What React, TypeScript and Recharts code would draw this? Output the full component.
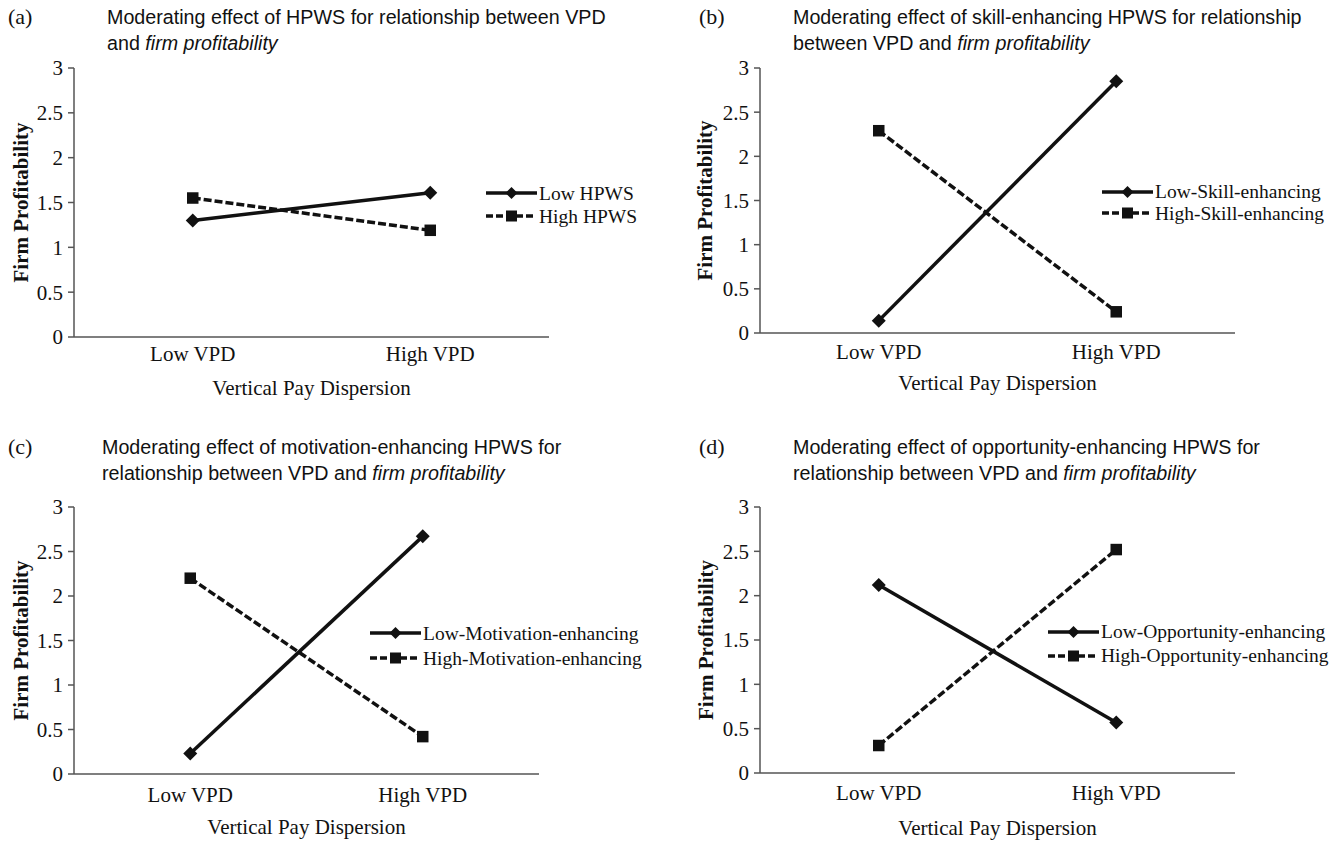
import React from 'react';
import { LineChart, Line, XAxis, YAxis, Legend } from 'recharts';

// ---------- data ----------
const categories = ['Low VPD', 'High VPD'];
const yTicks = [0, 0.5, 1, 1.5, 2, 2.5, 3];

const lowHPWS = [1.3, 1.61];
const highHPWS = [1.55, 1.19];
const lowSkill = [0.14, 2.85];
const highSkill = [2.29, 0.24];
const lowMotivation = [0.23, 2.67];
const highMotivation = [2.2, 0.42];
const lowOpportunity = [2.12, 0.57];
const highOpportunity = [0.31, 2.52];

const namesA = ['Low HPWS', 'High HPWS'];
const namesB = ['Low-Skill-enhancing', 'High-Skill-enhancing'];
const namesC = ['Low-Motivation-enhancing', 'High-Motivation-enhancing'];
const namesD = ['Low-Opportunity-enhancing', 'High-Opportunity-enhancing'];

const panelLetters = ['(a)', '(b)', '(c)', '(d)'];
const titleLine1 = [
  'Moderating effect of HPWS for relationship between VPD',
  'Moderating effect of skill-enhancing HPWS for relationship',
  'Moderating effect of motivation-enhancing HPWS for',
  'Moderating effect of opportunity-enhancing HPWS for',
];
const titleLine2Plain = ['and ', 'between VPD and ', 'relationship between VPD and ', 'relationship between VPD and '];
const titleLine2Italic = 'firm profitability';
const xAxisTitle = 'Vertical Pay Dispersion';
const yAxisTitle = 'Firm Profitability';

const buildRows = (low: number[], high: number[]) =>
  categories.map((name, i) => ({ name, low: low[i], high: high[i] }));

// ---------- styling ----------
const SERIF = "'Liberation Serif', 'Times New Roman', Times, serif";
const SANS = "'Liberation Sans', Arial, Helvetica, sans-serif";
const INK = '#111';
const AXIS = '#555';
const LINE_W = 3.5;

const renderDiamond = (props: any) => {
  const { cx, cy, index } = props;
  if (cx == null || cy == null) return <g key={`d-${index}`} />;
  const r = 7;
  return (
    <polygon
      key={`d-${index}`}
      points={`${cx},${cy - r} ${cx + r},${cy} ${cx},${cy + r} ${cx - r},${cy}`}
      fill={INK}
    />
  );
};

const renderSquare = (props: any) => {
  const { cx, cy, index } = props;
  if (cx == null || cy == null) return <g key={`s-${index}`} />;
  const s = 11.5;
  return <rect key={`s-${index}`} x={cx - s / 2} y={cy - s / 2} width={s} height={s} fill={INK} />;
};

type PanelCfg = {
  left: number;
  top: number;
  w: number;
  h: number;
  plotLeft: number;
  plotRight: number;
  plotTop: number;
  plotBottom: number;
  xAxisHeight: number;
  tickMargin: number;
  yLabelOffset: number;
  legendLeft: number;
  legendTop: number;
  legendRow: number;
  letterLeft: number;
  titleLeft: number;
};

const makeLegend = (names: string[], rowH: number) => () => (
  <div style={{ fontFamily: SERIF, fontSize: 19.5, color: INK }}>
    {names.map((n, i) => (
      <div key={n} style={{ display: 'flex', alignItems: 'center', height: rowH, whiteSpace: 'nowrap' }}>
        <svg width={52} height={16} style={{ display: 'block' }}>
          <line
            x1={0}
            x2={i === 1 ? 48 : 51}
            y1={8}
            y2={8}
            stroke={INK}
            strokeWidth={LINE_W}
            strokeDasharray={i === 1 ? '7 3' : undefined}
          />
          {i === 0 ? (
            <polygon points="25.5,2 31.5,8 25.5,14 19.5,8" fill={INK} />
          ) : (
            <rect x={20} y={2.5} width={11} height={11} fill={INK} />
          )}
        </svg>
        <span style={{ marginLeft: 1, lineHeight: `${rowH}px` }}>{n}</span>
      </div>
    ))}
  </div>
);

const Panel = ({ cfg, low, high, names, idx }: { cfg: PanelCfg; low: number[]; high: number[]; names: string[]; idx: number }) => {
  const data = buildRows(low, high);
  const margin = {
    top: cfg.plotTop,
    left: 0,
    right: cfg.w - cfg.plotRight,
    bottom: cfg.h - cfg.plotBottom - cfg.xAxisHeight,
  };
  return (
    <>
      <div
        style={{
          position: 'absolute',
          left: cfg.letterLeft,
          top: cfg.top + 4,
          fontFamily: SERIF,
          fontSize: 22,
          lineHeight: '26px',
          color: INK,
        }}
      >
        {panelLetters[idx]}
      </div>
      <div
        style={{
          position: 'absolute',
          left: cfg.titleLeft,
          top: cfg.top + 4,
          fontFamily: SANS,
          fontSize: 19.7,
          lineHeight: '26px',
          color: INK,
          whiteSpace: 'nowrap',
        }}
      >
        {titleLine1[idx]}
        <br />
        {titleLine2Plain[idx]}
        <i>{titleLine2Italic}</i>
      </div>
      <div style={{ position: 'absolute', left: cfg.left, top: cfg.top }}>
        <LineChart width={cfg.w} height={cfg.h} data={data} margin={margin}>
          <XAxis
            dataKey="name"
            type="category"
            scale="band"
            axisLine={{ stroke: AXIS, strokeWidth: 1.5 }}
            tickLine={false}
            tickSize={6}
            tickMargin={cfg.tickMargin}
            height={cfg.xAxisHeight}
            tick={{ fill: INK, fontFamily: SERIF, fontSize: 21 }}
            interval={0}
            label={{
              value: xAxisTitle,
              position: 'insideBottom',
              offset: 0,
              fill: INK,
              fontFamily: SERIF,
              fontSize: 21,
            }}
          />
          <YAxis
            type="number"
            domain={[0, 3]}
            ticks={yTicks}
            interval={0}
            width={cfg.plotLeft}
            axisLine={{ stroke: AXIS, strokeWidth: 1.5 }}
            tickLine={{ stroke: AXIS, strokeWidth: 1.5 }}
            tickSize={6}
            tickMargin={5}
            tick={{ fill: INK, fontFamily: SERIF, fontSize: 21 }}
            label={{
              value: yAxisTitle,
              angle: -90,
              position: 'insideLeft',
              offset: cfg.yLabelOffset,
              textAnchor: 'middle',
              fill: INK,
              fontFamily: SERIF,
              fontSize: 21,
              fontWeight: 'bold',
            }}
          />
          <Legend
            layout="vertical"
            align="center"
            verticalAlign="middle"
            content={makeLegend(names, cfg.legendRow)}
            wrapperStyle={{ left: cfg.legendLeft, top: cfg.legendTop, width: 'auto', height: 'auto' }}
          />
          <Line
            name={names[0]}
            dataKey="low"
            type="linear"
            stroke={INK}
            strokeWidth={LINE_W}
            dot={renderDiamond}
            activeDot={false}
            isAnimationActive={false}
          />
          <Line
            name={names[1]}
            dataKey="high"
            type="linear"
            stroke={INK}
            strokeWidth={LINE_W}
            strokeDasharray="8 3"
            dot={renderSquare}
            activeDot={false}
            isAnimationActive={false}
          />
        </LineChart>
      </div>
    </>
  );
};

const cfgA: PanelCfg = {
  left: 0, top: 0, w: 680, h: 425,
  plotLeft: 74, plotRight: 549, plotTop: 68, plotBottom: 337,
  xAxisHeight: 58, tickMargin: 3, yLabelOffset: 21,
  legendLeft: 486, legendTop: 181.5, legendRow: 23,
  letterLeft: 8, titleLeft: 107,
};
const cfgB: PanelCfg = {
  left: 680, top: 0, w: 659, h: 425,
  plotLeft: 80, plotRight: 555, plotTop: 68, plotBottom: 333,
  xAxisHeight: 57, tickMargin: 5, yLabelOffset: 25,
  legendLeft: 422, legendTop: 181, legendRow: 21.5,
  letterLeft: 699, titleLeft: 793,
};
const cfgC: PanelCfg = {
  left: 0, top: 430, w: 680, h: 413,
  plotLeft: 74, plotRight: 539, plotTop: 77, plotBottom: 344,
  xAxisHeight: 60, tickMargin: 7, yLabelOffset: 21,
  legendLeft: 370, legendTop: 190.5, legendRow: 25,
  letterLeft: 8, titleLeft: 102,
};
const cfgD: PanelCfg = {
  left: 680, top: 430, w: 659, h: 413,
  plotLeft: 80, plotRight: 555, plotTop: 77, plotBottom: 343,
  xAxisHeight: 62, tickMargin: 6, yLabelOffset: 26,
  legendLeft: 368, legendTop: 190, legendRow: 24,
  letterLeft: 699, titleLeft: 793,
};

export default function App() {
  return (
    <div
      style={{
        position: 'absolute',
        left: 0,
        top: 0,
        width: 1339,
        height: 843,
        background: '#fff',
        overflow: 'hidden',
      }}
    >
      <Panel cfg={cfgA} low={lowHPWS} high={highHPWS} names={namesA} idx={0} />
      <Panel cfg={cfgB} low={lowSkill} high={highSkill} names={namesB} idx={1} />
      <Panel cfg={cfgC} low={lowMotivation} high={highMotivation} names={namesC} idx={2} />
      <Panel cfg={cfgD} low={lowOpportunity} high={highOpportunity} names={namesD} idx={3} />
    </div>
  );
}
